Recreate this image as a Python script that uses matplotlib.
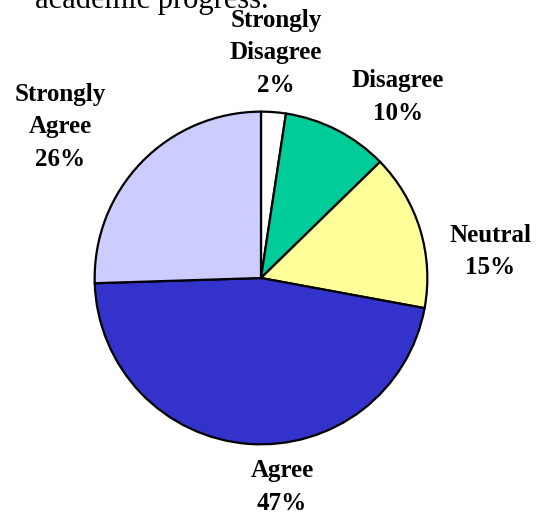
import matplotlib
matplotlib.use("Agg")
import matplotlib.pyplot as plt

labels = ["Strongly\nDisagree", "Disagree", "Neutral", "Agree", "Strongly\nAgree"]
values = [2.4, 10.3, 15.2, 46.6, 25.5]
pct_text = ["2%", "10%", "15%", "47%", "26%"]
colors = ["#FFFFFF", "#00CC99", "#FFFF99", "#3333CC", "#CCCCFF"]

# label centres in figure pixels (x, y from top)
label_pos = [(276, 53), (398, 97), (490, 251), (282, 487), (60, 127)]

W, H = 539, 517
fig = plt.figure(figsize=(W / 100, H / 100), dpi=100)

cx, cy, r = 261, 278, 168
ax = fig.add_axes([(cx - r) / W, (H - cy - r) / H, 2 * r / W, 2 * r / H])
ax.pie(values, colors=colors, startangle=90, counterclock=False,
       wedgeprops=dict(edgecolor="black", linewidth=1.6))
ax.set_xlim(-1.01, 1.01)
ax.set_ylim(-1.01, 1.01)
ax.axis("off")

for lab, p, (px, py) in zip(labels, pct_text, label_pos):
    fig.text(px / W, 1 - py / H, lab + "\n" + p, ha="center", va="center",
             family="Liberation Serif", fontweight="bold", fontsize=18,
             linespacing=1.5)

fig.text(35 / W, 1 - 8 / H, "academic progress.", ha="left", va="baseline",
         family="Liberation Serif", fontsize=22)

fig.savefig("out.png", dpi=100)
